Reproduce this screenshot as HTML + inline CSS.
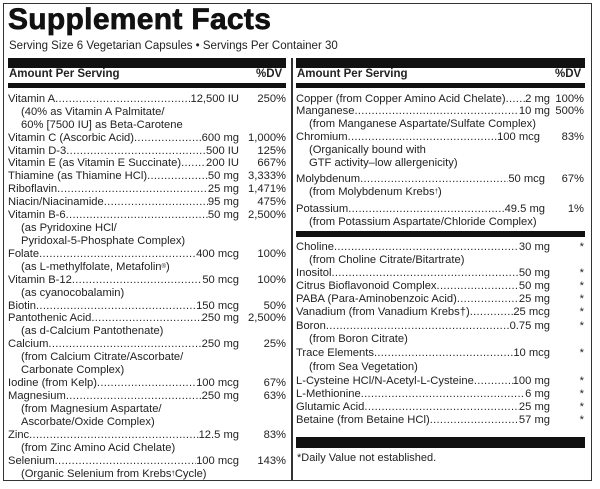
<!DOCTYPE html>
<html><head><meta charset="utf-8"><style>
*{margin:0;padding:0;box-sizing:border-box}
body{width:600px;height:489px;background:#fff;position:relative;overflow:hidden;font-family:"Liberation Sans",Arial,sans-serif;color:#222}
.frame{position:absolute;left:3px;top:3px;width:589px;height:478px;border:1.5px solid #333}
.div{position:absolute;left:291px;top:58px;width:1.5px;height:423px;background:#333}
.bar{position:absolute;background:#111}
.t{position:absolute;white-space:nowrap}
.r{position:absolute;height:13px;line-height:13px;font-size:11.2px;display:flex;white-space:nowrap}
.n{display:flex;overflow:hidden}
.ld{flex:1;overflow:hidden;white-space:nowrap}
.ld:after{content:"..................................................................................................................................";letter-spacing:0.3px}
.d{flex:1;text-align:right}
.L{left:8px;width:278px}.L .n{width:231px}
.R{left:296px;width:288px}.R .n{width:254px}
.s{padding-left:13px}
</style></head><body>
<div class="frame"></div>
<div class="div"></div>
<div class="t" style="left:8px;top:3px;font-size:30px;font-weight:bold;letter-spacing:0.3px;-webkit-text-stroke:0.7px #111;font-family:'Liberation Sans',Arial,sans-serif;color:#111">Supplement Facts</div>
<div class="t" style="left:9px;top:40px;font-size:11.5px">Serving Size 6 Vegetarian Capsules • Servings Per Container 30</div>

<div class="bar" style="left:8px;top:58px;width:278px;height:10px"></div>
<div class="bar" style="left:8px;top:83px;width:278px;height:5px"></div>
<div class="t" style="left:9px;top:68px;font-size:11.5px;font-weight:bold">Amount Per Serving</div>
<div class="t" style="left:256px;top:68px;font-size:11.5px;font-weight:bold">%DV</div>

<div class="bar" style="left:296px;top:58px;width:289px;height:10px"></div>
<div class="bar" style="left:296px;top:83px;width:289px;height:5px"></div>
<div class="t" style="left:297px;top:68px;font-size:11.5px;font-weight:bold">Amount Per Serving</div>
<div class="t" style="left:555px;top:68px;font-size:11.5px;font-weight:bold">%DV</div>

<div class="r L" style="top:93px"><div class="n">Vitamin A<span class="ld"></span>12,500 IU</div><div class="d">250%</div></div>
<div class="r L s" style="top:106px">(40% as Vitamin A Palmitate/</div>
<div class="r L s" style="top:119px">60% [7500 IU] as Beta-Carotene</div>
<div class="r L" style="top:132px"><div class="n">Vitamin C (Ascorbic Acid)<span class="ld"></span>600 mg</div><div class="d">1,000%</div></div>
<div class="r L" style="top:145px"><div class="n">Vitamin D-3<span class="ld"></span>500 IU</div><div class="d">125%</div></div>
<div class="r L" style="top:157px"><div class="n">Vitamin E (as Vitamin E Succinate)<span class="ld"></span>200 IU</div><div class="d">667%</div></div>
<div class="r L" style="top:170px"><div class="n">Thiamine (as Thiamine HCl)<span class="ld"></span>50 mg</div><div class="d">3,333%</div></div>
<div class="r L" style="top:183px"><div class="n">Riboflavin<span class="ld"></span>25 mg</div><div class="d">1,471%</div></div>
<div class="r L" style="top:196px"><div class="n">Niacin/Niacinamide<span class="ld"></span>95 mg</div><div class="d">475%</div></div>
<div class="r L" style="top:209px"><div class="n">Vitamin B-6<span class="ld"></span>50 mg</div><div class="d">2,500%</div></div>
<div class="r L s" style="top:222px">(as Pyridoxine HCl/</div>
<div class="r L s" style="top:235px">Pyridoxal-5-Phosphate Complex)</div>
<div class="r L" style="top:248px"><div class="n">Folate<span class="ld"></span>400 mcg</div><div class="d">100%</div></div>
<div class="r L s" style="top:261px">(as L-methylfolate, Metafolin<sup style="font-size:6px">®</sup>)</div>
<div class="r L" style="top:274px"><div class="n">Vitamin B-12<span class="ld"></span>50 mcg</div><div class="d">100%</div></div>
<div class="r L s" style="top:287px">(as cyanocobalamin)</div>
<div class="r L" style="top:300px"><div class="n">Biotin<span class="ld"></span>150 mcg</div><div class="d">50%</div></div>
<div class="r L" style="top:312px"><div class="n">Pantothenic Acid<span class="ld"></span>250 mg</div><div class="d">2,500%</div></div>
<div class="r L s" style="top:325px">(as d-Calcium Pantothenate)</div>
<div class="r L" style="top:338px"><div class="n">Calcium<span class="ld"></span>250 mg</div><div class="d">25%</div></div>
<div class="r L s" style="top:351px">(from Calcium Citrate/Ascorbate/</div>
<div class="r L s" style="top:364px">Carbonate Complex)</div>
<div class="r L" style="top:377px"><div class="n">Iodine (from Kelp)<span class="ld"></span>100 mcg</div><div class="d">67%</div></div>
<div class="r L" style="top:390px"><div class="n">Magnesium<span class="ld"></span>250 mg</div><div class="d">63%</div></div>
<div class="r L s" style="top:403px">(from Magnesium Aspartate/</div>
<div class="r L s" style="top:416px">Ascorbate/Oxide Complex)</div>
<div class="r L" style="top:429px"><div class="n">Zinc<span class="ld"></span>12.5 mg</div><div class="d">83%</div></div>
<div class="r L s" style="top:442px">(from Zinc Amino Acid Chelate)</div>
<div class="r L" style="top:455px"><div class="n">Selenium<span class="ld"></span>100 mcg</div><div class="d">143%</div></div>
<div class="r L s" style="top:468px">(Organic Selenium from Krebs<sup style="font-size:6px">†</sup> Cycle)</div>

<div class="r R" style="top:93px"><div class="n">Copper (from Copper Amino Acid Chelate)<span class="ld"></span>2 mg</div><div class="d">100%</div></div>
<div class="r R" style="top:105px"><div class="n">Manganese<span class="ld"></span>10 mg</div><div class="d">500%</div></div>
<div class="r R s" style="top:118px">(from Manganese Aspartate/Sulfate Complex)</div>
<div class="r R" style="top:131px"><div class="n" style="width:244px">Chromium<span class="ld"></span>100 mcg</div><div class="d">83%</div></div>
<div class="r R s" style="top:144px">(Organically bound with</div>
<div class="r R s" style="top:157px">GTF activity–low allergenicity)</div>
<div class="r R" style="top:173px"><div class="n" style="width:249px">Molybdenum<span class="ld"></span>50 mcg</div><div class="d">67%</div></div>
<div class="r R s" style="top:186px">(from Molybdenum Krebs<sup style="font-size:6px">†</sup>)</div>
<div class="r R" style="top:203px"><div class="n" style="width:249px">Potassium<span class="ld"></span>49.5 mg</div><div class="d">1%</div></div>
<div class="r R s" style="top:216px">(from Potassium Aspartate/Chloride Complex)</div>
<div class="bar" style="left:296px;top:231px;width:289px;height:6px"></div>

<div class="r R" style="top:241px"><div class="n">Choline<span class="ld"></span>30 mg</div><div class="d">*</div></div>
<div class="r R s" style="top:254px">(from Choline Citrate/Bitartrate)</div>
<div class="r R" style="top:267px"><div class="n">Inositol<span class="ld"></span>50 mg</div><div class="d">*</div></div>
<div class="r R" style="top:280px"><div class="n">Citrus Bioflavonoid Complex <span class="ld"></span>50 mg</div><div class="d">*</div></div>
<div class="r R" style="top:293px"><div class="n">PABA (Para-Aminobenzoic Acid)<span class="ld"></span>25 mg</div><div class="d">*</div></div>
<div class="r R" style="top:306px"><div class="n">Vanadium (from Vanadium Krebs†)<span class="ld"></span>25 mcg</div><div class="d">*</div></div>
<div class="r R" style="top:320px"><div class="n">Boron<span class="ld"></span>0.75 mg</div><div class="d">*</div></div>
<div class="r R s" style="top:333px">(from Boron Citrate)</div>
<div class="r R" style="top:347px"><div class="n">Trace Elements <span class="ld"></span>10 mcg</div><div class="d">*</div></div>
<div class="r R s" style="top:361px">(from Sea Vegetation)</div>
<div class="r R" style="top:375px"><div class="n">L-Cysteine HCl/N-Acetyl-L-Cysteine <span class="ld"></span>100 mg</div><div class="d">*</div></div>
<div class="r R" style="top:388px"><div class="n">L-Methionine<span class="ld"></span>6 mg</div><div class="d">*</div></div>
<div class="r R" style="top:401px"><div class="n">Glutamic Acid <span class="ld"></span>25 mg</div><div class="d">*</div></div>
<div class="r R" style="top:414px"><div class="n">Betaine (from Betaine HCl) <span class="ld"></span>57 mg</div><div class="d">*</div></div>
<div class="bar" style="left:296px;top:437px;width:289px;height:11px"></div>
<div class="t" style="left:297px;top:452px;font-size:11px">*Daily Value not established.</div>
</body></html>
